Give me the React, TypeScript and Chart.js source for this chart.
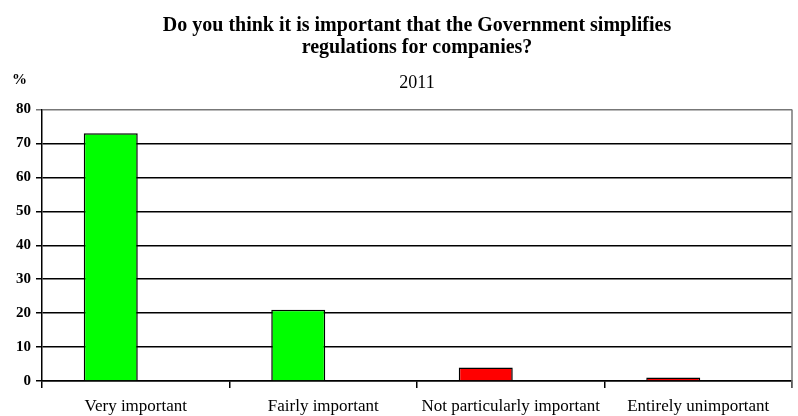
import React, { useEffect, useRef } from "react";
import { Chart, registerables } from "chart.js";

Chart.register(...registerables);

const categories = ["Very important", "Fairly important", "Not particularly important", "Entirely unimportant"];
const values2011 = [73, 21, 4, 1];
const barColors = ["#00FF00", "#00FF00", "#FF0000", "#FF0000"];
const hiddenSeries = [null, null, null, null];
const yTicks = [0, 10, 20, 30, 40, 50, 60, 70, 80];
const titleLines = ["Do you think it is important that the Government simplifies", "regulations for companies?"];
const subtitleText = "2011";
const yUnit = "%";

const FONT = "'Liberation Serif', 'Times New Roman', serif";

const framePlugin = {
  id: "frame",
  afterDraw(chart: any) {
    const { ctx, chartArea } = chart;
    ctx.save();
    ctx.strokeStyle = "#777";
    ctx.lineWidth = 1.5;
    ctx.beginPath();
    ctx.moveTo(chartArea.right, chartArea.top);
    ctx.lineTo(chartArea.right, chartArea.bottom + 7);
    ctx.stroke();
    ctx.fillStyle = "#000";
    ctx.font = "bold 15px " + FONT;
    ctx.textAlign = "left";
    ctx.textBaseline = "middle";
    ctx.fillText(yUnit, 12, chartArea.top - 29);
    ctx.restore();
  },
};

export default function App() {
  const ref = useRef<HTMLCanvasElement>(null);
  useEffect(() => {
    document.body.style.margin = "0";
    const chart = new Chart(ref.current!, {
      type: "bar",
      data: {
        labels: categories,
        datasets: [
          {
            label: subtitleText,
            data: values2011,
            backgroundColor: barColors,
            borderColor: "#000",
            borderWidth: 1.5,
            categoryPercentage: 0.5333,
            barPercentage: 1.08,
          },
          {
            label: "",
            data: hiddenSeries as any,
            categoryPercentage: 0.5333,
            barPercentage: 1.08,
          },
        ],
      },
      options: {
        animation: false,
        responsive: false,
        layout: { padding: { left: 11, right: 6, top: 0, bottom: 0 } },
        plugins: {
          legend: { display: false },
          tooltip: { enabled: false },
          title: {
            display: true,
            text: titleLines,
            fullSize: false,
            color: "#000",
            font: { family: FONT, size: 20, weight: "bold", lineHeight: 1.1 },
            padding: { top: 15, bottom: 13 },
          },
          subtitle: {
            display: true,
            text: subtitleText,
            fullSize: false,
            color: "#000",
            font: { family: FONT, size: 18, weight: "normal", lineHeight: 1.2 },
            padding: { top: 0, bottom: 16 },
          },
        },
        scales: {
          x: {
            afterFit: (axis: any) => {
              axis.height = 35;
            },
            grid: {
              offset: true,
              drawOnChartArea: false,
              drawTicks: true,
              tickLength: 7,
              color: "#000",
              lineWidth: 1.5,
            },
            border: { display: true, color: "#000", width: 1.5 },
            ticks: {
              color: "#000",
              font: { family: FONT, size: 17 },
              padding: 8,
              maxRotation: 0,
              autoSkip: false,
            },
          },
          y: {
            min: 0,
            max: 80,
            afterBuildTicks: (axis: any) => {
              axis.ticks = yTicks.map((v) => ({ value: v }));
            },
            grid: {
              color: (c: any) => (c.tick && c.tick.value === 80 ? "#777" : "#000"),
              lineWidth: 1.5,
              tickLength: 6,
            },
            border: { display: true, color: "#000", width: 1.5 },
            ticks: {
              color: "#000",
              font: { family: FONT, size: 15, weight: "bold" },
              padding: 5,
            },
          },
        },
      },
      plugins: [framePlugin],
    });
    return () => chart.destroy();
  }, []);
  return (
    <div style={{ position: "relative", width: 798, height: 416 }}>
      <canvas ref={ref} width={798} height={416} style={{ display: "block", width: 798, height: 416 }} />
    </div>
  );
}
